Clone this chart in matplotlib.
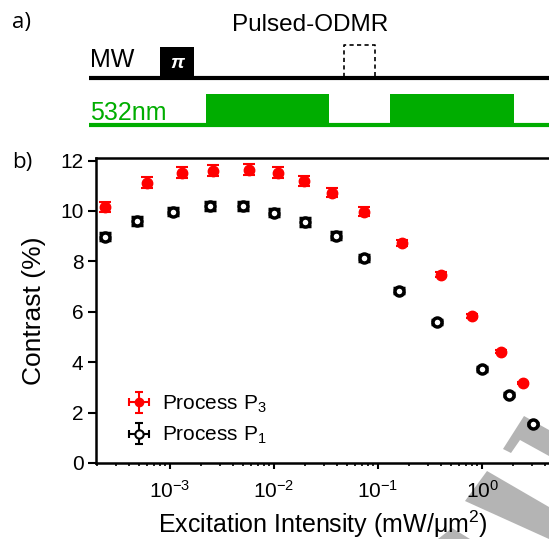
import numpy as np
import matplotlib.pyplot as plt
from matplotlib.patches import Rectangle, Polygon
from matplotlib.ticker import LogLocator, NullFormatter

plt.rcParams['font.family'] = ['Liberation Sans', 'DejaVu Sans']
plt.rcParams['mathtext.fontset'] = 'custom'
plt.rcParams['mathtext.rm'] = 'Liberation Sans'
plt.rcParams['mathtext.it'] = 'Liberation Sans:italic'
plt.rcParams['mathtext.bf'] = 'Liberation Sans:bold'

# Process P3 (red, filled)
p3_intensity = [2.37e-4, 6.0e-4, 1.3e-3, 2.6e-3, 5.75e-3, 1.1e-2, 1.95e-2,
                3.6e-2, 7.3e-2, 0.17, 0.40, 0.80, 1.52, 2.48]
p3_contrast = [10.17, 11.12, 11.52, 11.6, 11.64, 11.52, 11.2,
               10.73, 9.97, 8.74, 7.47, 5.84, 4.41, 3.18]
p3_err = [0.2, 0.22, 0.22, 0.22, 0.22, 0.22, 0.2,
          0.18, 0.17, 0.12, 0.1, 0.08, 0.06, 0.05]

# Process P1 (black, open)
p1_intensity = [2.37e-4, 4.8e-4, 1.07e-3, 2.4e-3, 5.0e-3, 1.0e-2, 2.0e-2,
                3.9e-2, 7.3e-2, 0.16, 0.37, 1.0, 1.82, 3.1]
p1_contrast = [8.98, 9.61, 9.97, 10.2, 10.2, 9.93, 9.57,
               9.02, 8.14, 6.83, 5.6, 3.73, 2.70, 1.55]
p1_err = [0.15, 0.15, 0.15, 0.15, 0.15, 0.15, 0.15,
          0.13, 0.12, 0.1, 0.08, 0.07, 0.06, 0.05]

# pulse sequence (schematic time units)
mw_pi_pulse = (160, 194)
mw_optional = (344, 375)
laser_pulses = [(206, 329), (390, 514)]
seq_start, seq_end = 89, 549

W, H = 549, 539
GREEN = '#00ad00'
fig = plt.figure(figsize=(W / 100, H / 100), dpi=100)

# overlay in pixel units for the schematic and panel letters
ov = fig.add_axes([0, 0, 1, 1], zorder=-1)
ov.set_xlim(0, W)
ov.set_ylim(H, 0)
ov.axis('off')

ov.text(12, 28, 'a)', fontsize=16, family=['Open Sans', 'DejaVu Sans'])
ov.text(12, 168, 'b)', fontsize=16, family=['Open Sans', 'DejaVu Sans'])
ov.text(310, 31, 'Pulsed-ODMR', fontsize=17.5, ha='center')

# MW line
ov.plot([seq_start, seq_end], [78, 78], color='black', lw=3, solid_capstyle='butt')
ov.add_patch(Rectangle((mw_pi_pulse[0], 47), mw_pi_pulse[1] - mw_pi_pulse[0], 31,
                       color='black', lw=0))
ov.text(sum(mw_pi_pulse) / 2, 64, 'π', color='white',
        fontsize=14, fontweight='bold', fontstyle='italic', ha='center', va='center')
ov.plot([mw_optional[0], mw_optional[0], mw_optional[1], mw_optional[1]],
        [77, 45, 45, 77], color='black', lw=1.2, ls=(0, (2.5, 2)))
ov.text(90, 67, 'MW', fontsize=18)

# laser line
ov.plot([seq_start, seq_end], [125, 125], color=GREEN, lw=3, solid_capstyle='butt')
for t0, t1 in laser_pulses:
    ov.add_patch(Rectangle((t0, 94), t1 - t0, 31, color=GREEN, lw=0))
ov.text(90, 120, '532nm', fontsize=18, color=GREEN)

# grey overlay shapes at lower right
grey = '#b4b4b4'
for pts in ([(503, 449), (524, 416), (549, 430), (549, 456), (520, 440), (511, 453)],
            [(465, 501), (487, 471), (549, 507), (549, 539), (476, 506)],
            [(438, 539), (452, 528), (470, 539)]):
    ov.add_patch(Polygon(pts, closed=True, color=grey, lw=0, zorder=5))

# main plot
left, bottom, top = 96, 463, 158
ax = fig.add_axes([left / W, (H - bottom) / H, (W - left) / W, (bottom - top) / H])
ax.patch.set_alpha(0)
ax.set_xscale('log')

ax.errorbar(p3_intensity, p3_contrast, yerr=p3_err, fmt='o', color='red',
            ms=7.5, mec='red', elinewidth=1.5, capsize=4.5, capthick=1.5, zorder=3)
ax.errorbar(p1_intensity, p1_contrast, yerr=p1_err, fmt='o', color='black',
            ms=6.5, mfc='white', mec='black', mew=2.5, elinewidth=1.5,
            capsize=4.5, capthick=1.5, zorder=3)

# legend handles with both error directions
h3 = ax.errorbar([np.nan], [np.nan], xerr=[1], yerr=[1], fmt='o', color='red',
                 ms=6, elinewidth=1.5, capsize=3, capthick=1.5)
h1 = ax.errorbar([np.nan], [np.nan], xerr=[1], yerr=[1], fmt='o', color='black',
                 ms=6, mfc='white', mew=1.5, elinewidth=1.5, capsize=3, capthick=1.5)
ax.legend([h3, h1], ['Process P$_3$', 'Process P$_1$'], loc='upper left',
          bbox_to_anchor=(0.065, 0.228), frameon=False, fontsize=15,
          handlelength=1.3, handletextpad=0.45, labelspacing=0.5,
          borderpad=0, borderaxespad=0)

ax.set_xlim(1.94e-4, 4.4)
ax.set_ylim(0, 12.1)
ax.set_yticks([0, 2, 4, 6, 8, 10, 12])
ax.xaxis.set_major_locator(LogLocator(base=10, numticks=10))
ax.xaxis.set_minor_locator(LogLocator(base=10, subs=np.arange(2, 10), numticks=20))
ax.xaxis.set_minor_formatter(NullFormatter())

for side in ['left', 'bottom', 'top']:
    ax.spines[side].set_linewidth(1.8)
ax.spines['right'].set_visible(False)
ax.tick_params(axis='both', which='major', labelsize=15, width=1.5, direction='out')
ax.tick_params(axis='y', which='major', length=6, pad=3)
ax.tick_params(axis='x', which='major', length=4, pad=8)
ax.tick_params(axis='x', which='minor', length=2.5, width=1.2)
ax.tick_params(top=False, which='both')

ax.set_xlabel('Excitation Intensity (mW/μm$^2$)', fontsize=18, labelpad=5)
ax.set_ylabel('Contrast (%)', fontsize=19, labelpad=10)

fig.savefig('out.png', dpi=100)
